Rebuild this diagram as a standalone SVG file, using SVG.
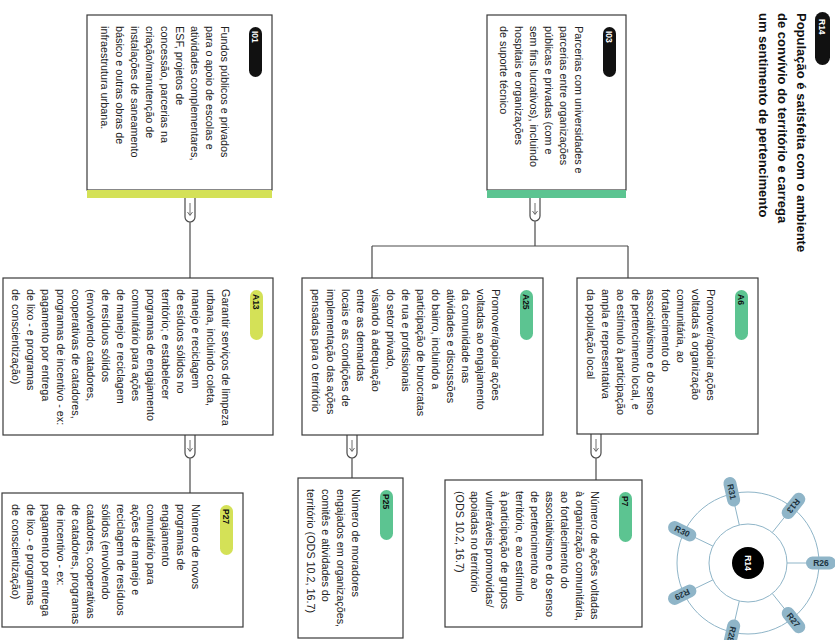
<svg xmlns="http://www.w3.org/2000/svg" width="835" height="640" viewBox="0 0 835 640">
<style>
.box{fill:#fff;stroke:#3a3a3a;stroke-width:1.2}
.t{font-family:"Liberation Sans",Arial,sans-serif;font-size:10.8px;fill:#222}
.pt{font-family:"Liberation Sans",Arial,sans-serif;font-size:8.5px;font-weight:bold;fill:#111}
.pw{fill:#fff}
.g{fill:#5cc491}
.y{fill:#d4e157}
.k{fill:#111}
.c{fill:none;stroke:#4a4a4a;stroke-width:1.2}
.a{fill:none;stroke:#4a4a4a;stroke-width:0.8}
.ttl{font-family:"Liberation Sans",Arial,sans-serif;font-size:13px;font-weight:bold;fill:#111}
.ring{fill:none;stroke:#8fb5c8;stroke-width:1}
.rl{fill:#8fb5c8}
.rt{font-family:"Liberation Sans",Arial,sans-serif;font-size:8.5px;font-weight:bold;fill:#1d3340}
</style>
<g transform="translate(835,0) rotate(90)">
<g id="title">
<rect class="k" x="12" y="5" width="53" height="15" rx="7.5"/>
<text class="pt pw" x="19" y="16">R14</text>
<text class="ttl" x="13" y="38">População é satisfeita com o ambiente</text>
<text class="ttl" x="13" y="57">de convívio do território e carrega</text>
<text class="ttl" x="13" y="76">um sentimento de pertencimento</text>
</g>
<g id="connectors">
<path class="c" d="M198,640H217A5,5 0 0 1 217,650H198M222,645H278"/>
<path class="a" d="M203,645H215M212,642.5L215.5,645L212,647.5"/>
<path class="c" d="M198,295H216A5,5 0 0 1 216,305H198M221,300H246M246,207V463M246,207H278M246,463H278"/>
<path class="a" d="M203,300H214M211,297.5L214.5,300L211,302.5"/>
<path class="c" d="M434,234H453A5,5 0 0 1 453,244H434M458,239H480"/>
<path class="a" d="M439,239H451M448,236.5L451.5,239L448,241.5"/>
<path class="c" d="M435,478H453A5,5 0 0 1 453,488H435M458,483H478"/>
<path class="a" d="M440,483H451M448,480.5L451.5,483L448,485.5"/>
<path class="c" d="M435,640H453A5,5 0 0 1 453,650H435M458,645H493"/>
<path class="a" d="M440,645H451M448,642.5L451.5,645L448,647.5"/>
</g>
<g id="I03" transform="translate(15,209)">
<rect class="box" width="175" height="139"/>
<rect class="g" x="175" y="0" width="8" height="139"/>
<rect class="k" x="12" y="10" width="50" height="13" rx="6.5"/>
<text class="pt pw" x="16" y="20">I03</text>
<text class="t"><tspan x="11" y="51">Parcerias com universidades e</tspan><tspan x="11" dy="15">parcerias entre organizações</tspan><tspan x="11" dy="15">públicas e privadas (com e</tspan><tspan x="11" dy="15">sem fins lucrativos), incluindo</tspan><tspan x="11" dy="15">hospitais e organizações</tspan><tspan x="11" dy="15">de suporte técnico</tspan></text>
</g>
<g id="I01" transform="translate(15,563)">
<rect class="box" width="175" height="185"/>
<rect class="y" x="175" y="0" width="8" height="185"/>
<rect class="k" x="12" y="10" width="50" height="13" rx="6.5"/>
<text class="pt pw" x="16" y="20">I01</text>
<text class="t"><tspan x="11" y="51">Fundos públicos e privados</tspan><tspan x="11" dy="15">para o apoio de escolas e</tspan><tspan x="11" dy="15">atividades complementares,</tspan><tspan x="11" dy="15">ESF, projetos de</tspan><tspan x="11" dy="15">concessão, parcerias na</tspan><tspan x="11" dy="15">criação/manutenção de</tspan><tspan x="11" dy="15">instalações de saneamento</tspan><tspan x="11" dy="15">básico e outras obras de</tspan><tspan x="11" dy="15">infraestrutura urbana.</tspan></text>
</g>
<g id="A6" transform="translate(278,77)">
<rect class="box" width="156" height="181"/>
<rect class="g" x="12" y="10" width="50" height="13" rx="6.5"/>
<text class="pt" x="16" y="20">A6</text>
<text class="t"><tspan x="11" y="51">Promover/apoiar ações</tspan><tspan x="11" dy="15">voltadas à organização</tspan><tspan x="11" dy="15">comunitária, ao</tspan><tspan x="11" dy="15">fortalecimento do</tspan><tspan x="11" dy="15">associativismo e do senso</tspan><tspan x="11" dy="15">de pertencimento local, e</tspan><tspan x="11" dy="15">ao estímulo à participação</tspan><tspan x="11" dy="15">ampla e representativa</tspan><tspan x="11" dy="15">da população local</tspan></text>
</g>
<g id="A25" transform="translate(278,292)">
<rect class="box" width="157" height="241"/>
<rect class="g" x="12" y="10" width="50" height="13" rx="6.5"/>
<text class="pt" x="16" y="20">A25</text>
<text class="t"><tspan x="11" y="51">Promover/apoiar ações</tspan><tspan x="11" dy="15">voltadas ao engajamento</tspan><tspan x="11" dy="15">da comunidade nas</tspan><tspan x="11" dy="15">atividades e discussões</tspan><tspan x="11" dy="15">do bairro, incluindo a</tspan><tspan x="11" dy="15">participação de burocratas</tspan><tspan x="11" dy="15">de rua e profissionais</tspan><tspan x="11" dy="15">do setor privado,</tspan><tspan x="11" dy="15">visando à adequação</tspan><tspan x="11" dy="15">entre as demandas</tspan><tspan x="11" dy="15">locais e as condições de</tspan><tspan x="11" dy="15">implementação das ações</tspan><tspan x="11" dy="15">pensadas para o território</tspan></text>
</g>
<g id="A13" transform="translate(278,562)">
<rect class="box" width="157" height="270"/>
<rect class="y" x="12" y="10" width="50" height="13" rx="6.5"/>
<text class="pt" x="16" y="20">A13</text>
<text class="t"><tspan x="11" y="51">Garantir serviços de limpeza</tspan><tspan x="11" dy="15">urbana, incluindo coleta,</tspan><tspan x="11" dy="15">manejo e reciclagem</tspan><tspan x="11" dy="15">de esíduos sólidos no</tspan><tspan x="11" dy="15">território; e estabelecer</tspan><tspan x="11" dy="15">programas de engajamento</tspan><tspan x="11" dy="15">comunitário para ações</tspan><tspan x="11" dy="15">de manejo e reciclagem</tspan><tspan x="11" dy="15">de resíduos sólidos</tspan><tspan x="11" dy="15">(envolvendo catadores,</tspan><tspan x="11" dy="15">cooperativas de catadores,</tspan><tspan x="11" dy="15">programas de incentivo - ex:</tspan><tspan x="11" dy="15">pagamento por entrega</tspan><tspan x="11" dy="15">de lixo - e programas</tspan><tspan x="11" dy="15">de conscientização)</tspan></text>
</g>
<g id="P7" transform="translate(480,193)">
<rect class="box" width="147" height="197"/>
<rect class="g" x="12" y="10" width="50" height="13" rx="6.5"/>
<text class="pt" x="16" y="20">P7</text>
<text class="t"><tspan x="11" y="51">Número de ações voltadas</tspan><tspan x="11" dy="15">à organização comunitária,</tspan><tspan x="11" dy="15">ao fortalecimento do</tspan><tspan x="11" dy="15">associativismo e do senso</tspan><tspan x="11" dy="15">de pertencimento ao</tspan><tspan x="11" dy="15">território, e ao estímulo</tspan><tspan x="11" dy="15">à participação de grupos</tspan><tspan x="11" dy="15">vulneráveis promovidas/</tspan><tspan x="11" dy="15">apoiadas no território</tspan><tspan x="11" dy="15">(ODS 10.2, 16.7)</tspan></text>
</g>
<g id="P25" transform="translate(478,432)">
<rect class="box" width="160" height="105"/>
<rect class="g" x="12" y="10" width="50" height="13" rx="6.5"/>
<text class="pt" x="16" y="20">P25</text>
<text class="t"><tspan x="11" y="51">Número de moradores</tspan><tspan x="11" dy="15">engajados em organizações,</tspan><tspan x="11" dy="15">comitês e atividades do</tspan><tspan x="11" dy="15">território (ODS 10.2, 16.7)</tspan></text>
</g>
<g id="P27" transform="translate(493,592)">
<rect class="box" width="134" height="241"/>
<rect class="y" x="12" y="10" width="50" height="13" rx="6.5"/>
<text class="pt" x="16" y="20">P27</text>
<text class="t"><tspan x="11" y="51">Número de novos</tspan><tspan x="11" dy="15">programas de</tspan><tspan x="11" dy="15">engajamento</tspan><tspan x="11" dy="15">comunitário para</tspan><tspan x="11" dy="15">ações de manejo e</tspan><tspan x="11" dy="15">reciclagem de resíduos</tspan><tspan x="11" dy="15">sólidos (envolvendo</tspan><tspan x="11" dy="15">catadores, cooperativas</tspan><tspan x="11" dy="15">de catadores, programas</tspan><tspan x="11" dy="15">de incentivo - ex:</tspan><tspan x="11" dy="15">pagamento por entrega</tspan><tspan x="11" dy="15">de lixo - e programas</tspan><tspan x="11" dy="15">de conscientização)</tspan></text>
</g>
</g>
<g id="radial">
<circle class="ring" cx="748" cy="563" r="71"/>
<circle class="ring" cx="748" cy="563" r="39"/>
<path class="ring" d="M787,563H808M772.3,593.5L785.4,609.9M739.3,601L734.6,621.5M712.9,579.9L694,589M712.9,546.1L694,537M739.3,525L734.6,504.5M772.3,532.5L785.4,516.1"/>
<circle cx="748" cy="563" r="16" fill="#000"/>
<text class="rt" style="fill:#fff" text-anchor="middle" transform="translate(748,563) rotate(90)" y="3">R14</text>
<g transform="translate(821,563) rotate(0)"><rect class="rl" x="-15" y="-6.5" width="30" height="13" rx="6.5"/><text class="rt" text-anchor="middle" y="3">R26</text></g>
<g transform="translate(793.5,620.1) rotate(51.43)"><rect class="rl" x="-15" y="-6.5" width="30" height="13" rx="6.5"/><text class="rt" text-anchor="middle" y="3">R27</text></g>
<g transform="translate(731.8,634.2) rotate(102.86)"><rect class="rl" x="-15" y="-6.5" width="30" height="13" rx="6.5"/><text class="rt" text-anchor="middle" y="3">R28</text></g>
<g transform="translate(682.2,594.7) rotate(154.29)"><rect class="rl" x="-15" y="-6.5" width="30" height="13" rx="6.5"/><text class="rt" text-anchor="middle" y="3">R29</text></g>
<g transform="translate(682.2,531.3) rotate(25.71)"><rect class="rl" x="-15" y="-6.5" width="30" height="13" rx="6.5"/><text class="rt" text-anchor="middle" y="3">R30</text></g>
<g transform="translate(731.8,491.8) rotate(77.14)"><rect class="rl" x="-15" y="-6.5" width="30" height="13" rx="6.5"/><text class="rt" text-anchor="middle" y="3">R31</text></g>
<g transform="translate(793.5,505.9) rotate(128.57)"><rect class="rl" x="-15" y="-6.5" width="30" height="13" rx="6.5"/><text class="rt" text-anchor="middle" y="3">R13</text></g>
</g>
</svg>
